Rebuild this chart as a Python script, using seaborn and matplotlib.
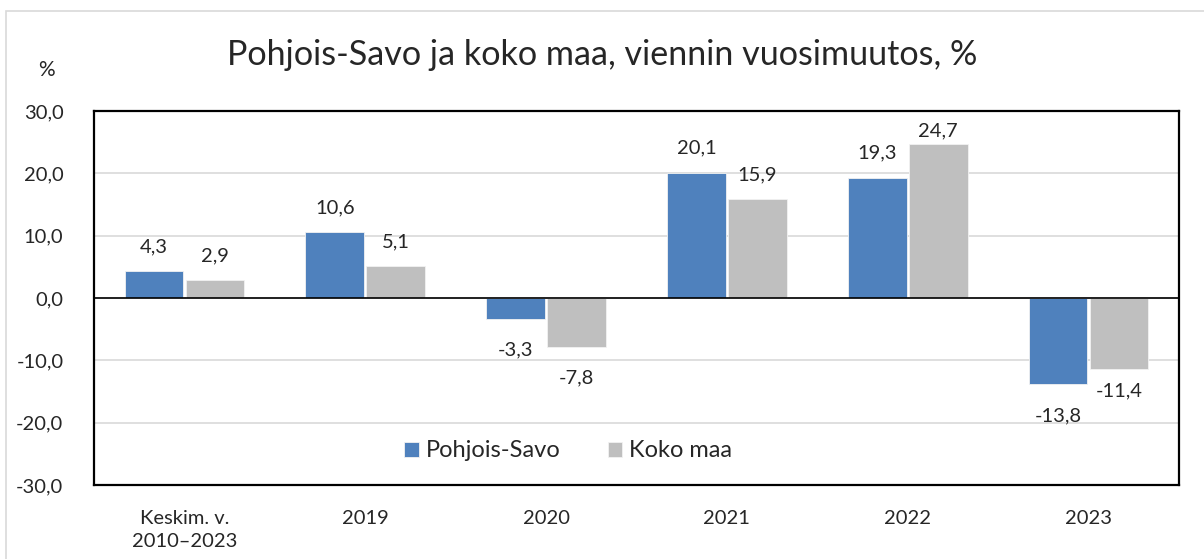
import matplotlib
matplotlib.use("Agg")
import matplotlib.pyplot as plt
import seaborn as sns
import pandas as pd
from matplotlib.patches import Rectangle

categories = ["Keskim. v.\n2010–2023", "2019", "2020", "2021", "2022", "2023"]
pohjois_savo = [4.3, 10.6, -3.3, 20.1, 19.3, -13.8]
koko_maa = [2.9, 5.1, -7.8, 15.9, 24.7, -11.4]
series_names = ["Pohjois-Savo", "Koko maa"]
colors = ["#4F81BD", "#BFBFBF"]
yticks = [-30, -20, -10, 0, 10, 20, 30]

sns.set_theme(style="white")
plt.rcParams['font.family'] = ['Lato', 'DejaVu Sans']

df = pd.DataFrame({
    "Luokka": categories * 2,
    "Arvo": pohjois_savo + koko_maa,
    "Sarja": [series_names[0]] * len(categories) + [series_names[1]] * len(categories),
})

fig = plt.figure(figsize=(12.04, 5.59), dpi=100)
ax = fig.add_axes([94/1204, 1 - 485/559, (1179-94)/1204, (485-111)/559])

sns.barplot(data=df, x="Luokka", y="Arvo", hue="Sarja", hue_order=series_names,
            palette=colors, saturation=1, width=0.675, gap=0.04, ax=ax, errorbar=None,
            edgecolor="#f2f2f2", linewidth=0.6, zorder=3)

ax.set_ylim(-30, 30)
ax.set_yticks(yticks)
ax.set_yticklabels([f"{v:.1f}".replace(".", ",") for v in yticks], fontsize=14.5)
ax.set_xlim(-0.5, len(categories) - 0.5)
ax.tick_params(axis="x", labelsize=14.5, pad=18, length=0)
ax.tick_params(axis="y", pad=22, length=0)
for t in ax.get_xticklabels():
    t.set_linespacing(1.45)
ax.set_xlabel("")
ax.set_ylabel("")
ax.grid(axis="y", color="#d9d9d9", linewidth=1.2, zorder=0)
ax.axhline(0, color="black", linewidth=1.2, zorder=4)
for s in ax.spines.values():
    s.set_color("black")
    s.set_linewidth(1.6)

# label offsets (points) as placed in the original chart
paddings = [
    [11.5, 11.5, 16.5, 11.5, 11.5, 16.5],
    [11.5, 11.5, 16.5, 11.5, 3.6, 9.5],
]
for cont, pads in zip(ax.containers, paddings):
    for bar, val, pad in zip(cont, cont.datavalues, pads):
        x = bar.get_x() + bar.get_width() / 2
        ax.annotate(f"{val:.1f}".replace(".", ","), (x, val),
                    xytext=(0, pad if val >= 0 else -pad), textcoords="offset points",
                    ha="center", va="bottom" if val >= 0 else "top", fontsize=14.5)

leg = ax.legend(loc="center", bbox_to_anchor=(0.437, 0.091), ncol=2, frameon=False,
                fontsize=17, handlelength=0.6, handleheight=0.6,
                handletextpad=0.3, columnspacing=2.0)

fig.text(0.5, 1 - 55/559, "Pohjois-Savo ja koko maa, viennin vuosimuutos, %",
         ha="center", va="center", fontsize=24.6)
fig.text(46/1204, 1 - 70/559, "%", ha="center", va="center", fontsize=15)

fig.patches.append(Rectangle((6/1204, -0.05), 1.1, 1 - 11/559 + 0.05,
                             transform=fig.transFigure, fill=False,
                             edgecolor="#d9d9d9", linewidth=1.2))

fig.savefig("out.png", dpi=100)
